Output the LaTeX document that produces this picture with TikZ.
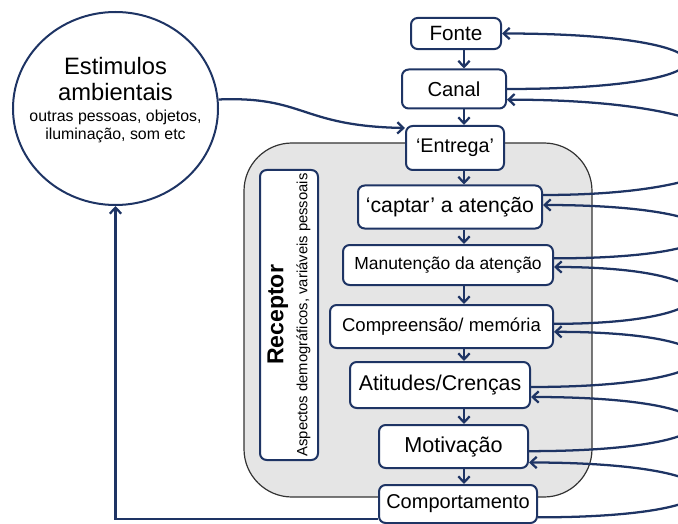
\documentclass[tikz,border=0pt]{standalone}
\usepackage{fontspec}
\setmainfont{Liberation Sans}
\usetikzlibrary{arrows.meta, shapes.geometric, positioning}
\definecolor{navy}{RGB}{30,52,100}
\newcommand{\fs}[2]{\fontsize{#1}{#2}\selectfont}
\tikzset{
  box/.style={draw=navy, line width=1.5pt, rounded corners=5pt, fill=white, inner sep=0pt},
  arr/.style={navy, line width=1.7pt, -{Straight Barb[length=4.5pt,width=8.5pt]}},
}

\begin{document}
\begin{tikzpicture}[x=0.75pt, y=-0.75pt]
\useasboundingbox (0,0) rectangle (678,524);
% area do receptor
\node[draw=black!80, line width=0.9pt, fill=black!10, rounded corners=36pt,
      minimum width=261pt, minimum height=265.5pt] (area) at (418,320) {};
\node[box, rotate=90, minimum width=217.5pt, minimum height=43.5pt, align=center,
      font=\fs{11.1}{18}] (recep) at (289,315)
      {{\fs{17.3}{18}\bfseries Receptor}\\Aspectos demográficos, variáveis pessoais};
% estimulos
\node[ellipse, draw=navy, line width=1.5pt, minimum width=153.75pt, minimum height=144.75pt] (estim) at (115.5,108.5) {};
\node[text width=150pt, align=center] (estimtxt) at (115.5,100)
      {{\fs{17.8}{19.5}Estimulos\\ambientais\par}\vspace{2pt}{\fs{11.9}{13.5}outras pessoas, objetos,\\iluminação, som etc\par}};
% etapas
\node[box, minimum width=67.5pt, minimum height=23.3pt, font=\fs{15.5}{18}] (fonte) at (456,33.5) {Fonte};
\node[box, minimum width=78pt, minimum height=29.25pt, font=\fs{15.2}{18}] (canal) at (454,89) {Canal};
\node[box, minimum width=73.5pt, minimum height=33pt, font=\fs{14.8}{18}] (entrega) at (455,148) {‘Entrega’};
\node[box, minimum width=138pt, minimum height=32.25pt, font=\fs{15.9}{18}] (captar) at (450,207) {‘captar’ a atenção};
\node[box, minimum width=157.5pt, minimum height=30pt, font=\fs{13.1}{16}] (manut) at (448,265) {Manutenção da atenção};
\node[box, minimum width=167.25pt, minimum height=32.25pt, font=\fs{13.9}{16}] (compr) at (441.5,326.5) {Compreensão/ memória};
\node[box, minimum width=135pt, minimum height=34.5pt, font=\fs{16}{18}] (atit) at (440,385) {Atitudes/Crenças};
\node[box, minimum width=111.75pt, minimum height=32.25pt, font=\fs{16.2}{18}] (motiv) at (453.5,446.5) {Motivação};
\node[box, minimum width=118.5pt, minimum height=28.5pt, font=\fs{15}{18}] (comport) at (458,504) {Comportamento};

\coordinate (spine) at (464,0);
\foreach \a/\b in {fonte/canal, canal/entrega, entrega/captar, captar/manut, manut/compr, compr/atit, atit/motiv, motiv/comport}
  \draw[arr] (\a.south -| spine) -- (\b.north -| spine);

% retroalimentacao
\draw[arr] (canal.east) to[out=0, in=0, distance=182pt] (fonte.east);
\draw[arr] ([yshift=9pt]captar.east) to[out=0, in=0, out distance=195pt, in distance=220pt] ([yshift=-8pt]canal.east);
\draw[arr] ([yshift=5pt]manut.east) to[out=0, in=0, distance=158pt] ([yshift=1.5pt]captar.east);
\draw[arr] ([yshift=2pt]compr.east) to[out=0, in=0, distance=140pt] ([yshift=-1.5pt]manut.east);
\draw[arr] ([yshift=-1.5pt]atit.east) to[out=0, in=0, out distance=162pt, in distance=148pt] ([yshift=-4pt]compr.east);
\draw[arr] ([yshift=-3.5pt]motiv.east) to[out=0, in=0, distance=165pt] ([yshift=-9pt]atit.east);
\draw[arr] ([yshift=-10pt]comport.east) to[out=0, in=0, distance=166pt] ([yshift=-12pt]motiv.east);

\draw[arr] (estim.5) .. controls (305,96) and (300,126) .. ([yshift=15pt]entrega.west);
\draw[arr] ([yshift=-11pt]comport.west) -| (estim.south);
\end{tikzpicture}
\end{document}
